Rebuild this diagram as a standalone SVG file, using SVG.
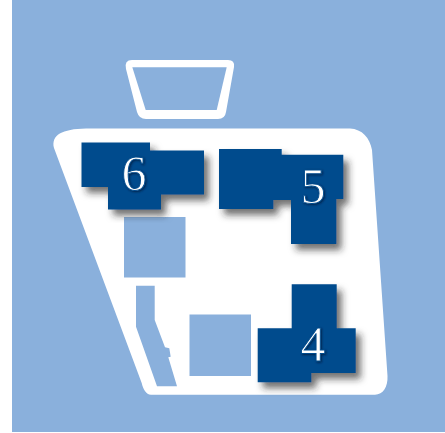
<svg xmlns="http://www.w3.org/2000/svg" width="445" height="433" viewBox="0 0 445 433">
<style>
.b{fill:#8ab0dc}
.n{fill:#004b8d;filter:url(#s)}
.t{font-family:"Liberation Serif",serif;font-size:50px;fill:#fff;stroke:#004b8d;stroke-width:.9px;text-anchor:middle;filter:url(#ts)}
</style>
<defs>
<filter id="s" x="-20%" y="-20%" width="140%" height="140%"><feDropShadow dx="5" dy="6" stdDeviation="3.500" flood-color="#222" flood-opacity=".65"/></filter>
<filter id="ts" x="-30%" y="-30%" width="160%" height="160%"><feDropShadow dx="1" dy="1" stdDeviation=".8" flood-color="#001a3a" flood-opacity=".8"/></filter>
</defs>
<rect width="445" height="433" fill="#fff"/>
<rect class="b" x="12" y="0" width="433" height="432"/>
<g id="hood"><path d="M132 60H228Q235 60 234 67L226 112Q225 119 218 119H146Q139 119 137 112L126 69Q124 60 132 60Z" fill="#fff"/><path class="b" d="M132.300 67.300H226.700L216.700 110H145.700Z"/></g>
<g id="body"><path d="M54 148C51 135 62 129 86 128.500H350C362 129 370 138 372 150L387.500 376C388 387 383 394.700 375 394.700H151C146 394.700 143 389 141.700 383Z" fill="#fff"/>
<rect class="b" x="124" y="217" width="61.500" height="60.500"/>
<rect class="b" x="189.500" y="314.500" width="61.500" height="61.500"/>
<path class="b" d="M136 285.700H154.700V320L165 347.300L169.300 348.300L170.700 356.700L168.300 357.300L177 386.300H157L136 326.700Z"/></g>
<g id="node-6"><path class="n" d="M81.500 142.500H150V150.500H204V194.500H161V209.500H108V187H81.500Z"/><text class="t" x="134" y="190">6</text></g>
<g id="node-5"><path class="n" d="M219 149H281.700V154.700H343.300V199H336.300V244H291V200H273.300V209H219Z"/><text class="t" x="313" y="203">5</text></g>
<g id="node-4"><path class="n" d="M291.700 284.300H336.700V328.300H355.700V373H311.300V382.300H257.700V328.300H291.700Z"/><text class="t" x="313" y="361">4</text></g>
<g id="connectors"/>
</svg>
